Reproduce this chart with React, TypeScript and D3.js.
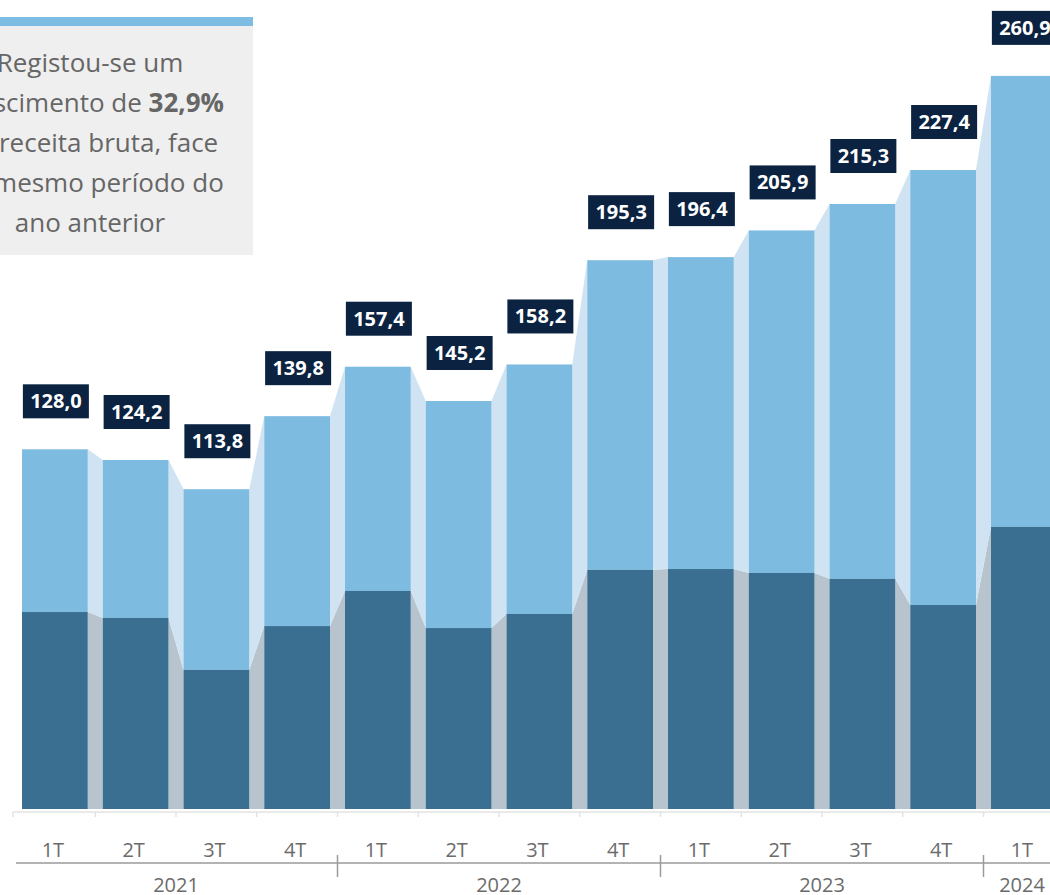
import React from "react";
import * as d3 from "d3";

const quarters = ["1T", "2T", "3T", "4T", "1T", "2T", "3T", "4T", "1T", "2T", "3T", "4T", "1T"];
const years = ["2021", "2022", "2023", "2024"];
const yearSpans = [4, 4, 4, 1];
const totals = [128.0, 124.2, 113.8, 139.8, 157.4, 145.2, 158.2, 195.3, 196.4, 205.9, 215.3, 227.4, 260.9];
const lowerPart = [70.1, 68.0, 49.5, 65.1, 77.6, 64.4, 69.4, 85.1, 85.4, 84.0, 81.9, 72.6, 100.4];
const totalLabels = ["128,0", "124,2", "113,8", "139,8", "157,4", "145,2", "158,2", "195,3", "196,4", "205,9", "215,3", "227,4", "260,9"];
const calloutLines = ["Registou-se um", "crescimento de |32,9%", "na receita bruta, face", "ao mesmo período do", "ano anterior"];

const W = 1050;
const H = 895;
const FONT = "'Open Sans', 'Noto Sans', sans-serif";

export default function App() {
  const idx = quarters.map((_, i) => String(i));
  const x = d3
    .scaleBand<string>()
    .domain(idx)
    .range([14.5, 14.5 + 13 * 80.75])
    .paddingInner(0.186)
    .paddingOuter(0.093);
  const y = d3.scaleLinear().domain([0, 280]).range([809, 809 - 280 * 2.81]);
  const bw = x.bandwidth();
  const base = y(0);

  const connectors = [];
  for (let i = 0; i < totals.length - 1; i++) {
    const xr = (x(String(i)) as number) + bw;
    const xl = x(String(i + 1)) as number;
    const lowPts = [
      [xr, base],
      [xr, y(lowerPart[i])],
      [xl, y(lowerPart[i + 1])],
      [xl, base],
    ];
    const upPts = [
      [xr, y(lowerPart[i])],
      [xr, y(totals[i])],
      [xl, y(totals[i + 1])],
      [xl, y(lowerPart[i + 1])],
    ];
    connectors.push(
      <g key={"c" + i}>
        <polygon points={lowPts.map((p) => p.join(",")).join(" ")} fill="#b7c3cd" />
        <polygon points={upPts.map((p) => p.join(",")).join(" ")} fill="#cfe3f2" />
      </g>
    );
  }

  let start = 0;
  const yearGroups = years.map((yr, k) => {
    const s = start;
    const e = start + yearSpans[k] - 1;
    start += yearSpans[k];
    const x0 = x(String(s)) as number;
    const x1 = (x(String(e)) as number) + bw;
    return { yr, s, e, x0, x1 };
  });
  const step = x.step();
  const gapMid = (i: number) => (x(String(i)) as number) + bw + (step - bw) / 2;

  return (
    <div style={{ position: "absolute", left: 0, top: 0 }}>
      <svg width={W} height={H} style={{ display: "block", fontFamily: FONT }}>
        <rect x={0} y={0} width={W} height={H} fill="#ffffff" />
        {/* callout */}
        <rect x={-10} y={17} width={263} height={9} fill="#7dbde3" />
        <rect x={-10} y={26} width={263} height={229} fill="#efefef" />
        {calloutLines.map((ln, i) => {
          const parts = ln.split("|");
          return (
            <text
              key={"cl" + i}
              x={90}
              y={72 + i * 40}
              textAnchor="middle"
              fontSize={26}
              fill="#666666"
            >
              {parts[0]}
              {parts[1] ? <tspan fontWeight="bold">{parts[1]}</tspan> : null}
            </text>
          );
        })}

        {connectors}

        {totals.map((t, i) => (
          <g key={"b" + i}>
            <rect x={x(String(i))} y={y(t)} width={bw} height={y(lowerPart[i]) - y(t)} fill="#7dbbe0" />
            <rect x={x(String(i))} y={y(lowerPart[i])} width={bw} height={base - y(lowerPart[i])} fill="#3b6f91" />
          </g>
        ))}

        {totals.map((t, i) => {
          const cx = (x(String(i)) as number) + bw / 2 + 1;
          const boxW = 66;
          const boxH = 34;
          const bottom = y(t) - 31;
          return (
            <g key={"l" + i}>
              <rect x={cx - boxW / 2} y={bottom - boxH} width={boxW} height={boxH} fill="#0b2341" />
              <text
                x={cx}
                y={bottom - boxH / 2 + 7}
                textAnchor="middle"
                fontSize={20}
                fontWeight="bold"
                fill="#ffffff"
              >
                {totalLabels[i]}
              </text>
            </g>
          );
        })}

        <line x1={13} x2={W} y1={812} y2={812} stroke="#e3e3e3" strokeWidth={1.5} />
        {d3.range(totals.length - 1).map((i) => (
          <line key={"t" + i} x1={gapMid(i)} x2={gapMid(i)} y1={812} y2={817} stroke="#e3e3e3" strokeWidth={1.5} />
        ))}
        <line x1={13} x2={13} y1={812} y2={817} stroke="#e3e3e3" strokeWidth={1.5} />

        {quarters.map((q, i) => (
          <text
            key={"q" + i}
            x={(x(String(i)) as number) + bw / 2 - 2}
            y={857}
            textAnchor="middle"
            fontSize={20}
            fill="#6b6b6b"
          >
            {q}
          </text>
        ))}

        <line x1={16} x2={W} y1={863} y2={863} stroke="#9a9a9a" strokeWidth={1.5} />
        {yearGroups.slice(0, -1).map((g) => (
          <line key={"yt" + g.yr} x1={gapMid(g.e)} x2={gapMid(g.e)} y1={855} y2={877} stroke="#9a9a9a" strokeWidth={1.5} />
        ))}
        {yearGroups.map((g) => (
          <text
            key={"y" + g.yr}
            x={g.yr === "2024" ? 1022 : (g.x0 + g.x1) / 2}
            y={892}
            textAnchor="middle"
            fontSize={20}
            fill="#6b6b6b"
          >
            {g.yr}
          </text>
        ))}
      </svg>
    </div>
  );
}
